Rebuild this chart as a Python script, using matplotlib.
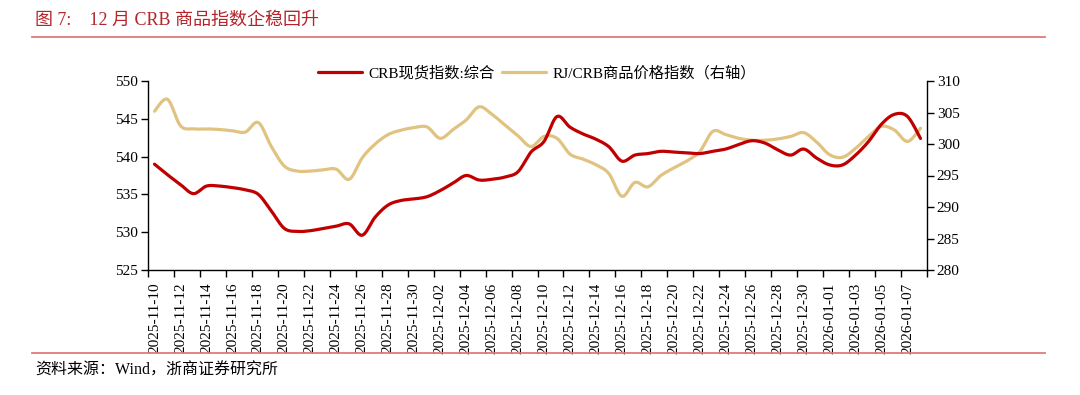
import numpy as np
import pandas as pd
import matplotlib
matplotlib.use("Agg")
import matplotlib.pyplot as plt
from matplotlib.lines import Line2D

# ---------------- data ----------------
dates = pd.date_range("2025-11-10", "2026-01-08", freq="D")
categories = [d.strftime("%Y-%m-%d") for d in dates]

crb_spot = [539.0, 537.6, 536.3, 535.1, 536.1, 536.1, 535.9, 535.6, 535.0, 532.8,
            530.5, 530.1, 530.2, 530.5, 530.8, 531.1, 529.6, 532.0, 533.6, 534.2,
            534.4, 534.7, 535.5, 536.5, 537.5, 536.9, 537.0, 537.3, 538.0, 540.6,
            542.0, 545.3, 543.9, 543.0, 542.3, 541.3, 539.4, 540.2, 540.4, 540.7,
            540.6, 540.5, 540.4, 540.7, 541.0, 541.6, 542.1, 541.8, 540.9, 540.2,
            541.0, 539.8, 538.9, 538.9, 540.2, 542.0, 544.3, 545.6, 545.3, 542.4]

rj_crb = [305.2, 307.1, 302.9, 302.4, 302.4, 302.3, 302.1, 301.9, 303.4, 299.6,
          296.5, 295.7, 295.7, 295.9, 296.0, 294.4, 297.8, 300.0, 301.5, 302.2,
          302.6, 302.7, 300.9, 302.3, 303.8, 305.9, 304.7, 303.0, 301.3, 299.6,
          301.2, 300.9, 298.4, 297.6, 296.7, 295.3, 291.7, 293.9, 293.2, 295.0,
          296.2, 297.3, 298.8, 302.0, 301.5, 300.9, 300.6, 300.6, 300.8, 301.2,
          301.8, 300.3, 298.3, 297.9, 299.3, 301.2, 302.8, 302.2, 300.4, 302.5]

left_ticks = [525, 530, 535, 540, 545, 550]
right_ticks = [280, 285, 290, 295, 300, 305, 310]

title_text = "图 7:    12 月 CRB 商品指数企稳回升"
source_text = "资料来源：Wind，浙商证券研究所"
label_spot = "CRB现货指数:综合"
label_rj = "RJ/CRB商品价格指数（右轴）"

RED = "#c00000"
TAN = "#e0c381"
TITLE_RED = "#b5242b"
RULE_RED = "#e07a7a"

FAM = ["Liberation Serif", "Noto Sans CJK SC"]
plt.rcParams["font.family"] = FAM


def smooth(x, y, n=12):
    """Catmull-Rom curve through the points (like a smoothed line)."""
    x = np.asarray(x, float)
    y = np.asarray(y, float)
    P = np.column_stack([x, y])
    P = np.vstack([P[0], P, P[-1]])
    out = []
    t = np.linspace(0, 1, n, endpoint=False)[:, None]
    for i in range(1, len(P) - 2):
        p0, p1, p2, p3 = P[i - 1], P[i], P[i + 1], P[i + 2]
        seg = 0.5 * ((2 * p1) + (-p0 + p2) * t + (2 * p0 - 5 * p1 + 4 * p2 - p3) * t ** 2
                     + (-p0 + 3 * p1 - 3 * p2 + p3) * t ** 3)
        out.append(seg)
    out.append(P[-2][None, :])
    S = np.vstack(out)
    return S[:, 0], S[:, 1]


fig = plt.figure(figsize=(10.8, 3.95), dpi=100)
ax = fig.add_axes([148 / 1080, 1 - 270 / 395, (927 - 148) / 1080, (270 - 81) / 395])
ax2 = ax.twinx()

xpos = np.arange(len(categories)) + 0.5
sx, sy = smooth(xpos, crb_spot)
l1, = ax.plot(sx, sy, color=RED, lw=2.3, solid_capstyle="round", zorder=3)
rx, ry = smooth(xpos, rj_crb)
l2, = ax2.plot(rx, ry, color=TAN, lw=2.3, solid_capstyle="round", zorder=2)
ax.set_zorder(ax2.get_zorder() + 1)
ax.patch.set_visible(False)

ax.set_xlim(0, len(categories))
ax.set_ylim(left_ticks[0], left_ticks[-1])
ax2.set_ylim(right_ticks[0], right_ticks[-1])
ax.set_yticks(left_ticks)
ax2.set_yticks(right_ticks)

# category axis: tick marks at boundaries, labels at centres of every 2nd category
ax.set_xticks(np.arange(0, len(categories) + 1, 2))
ax.set_xticklabels([])
ax.set_xticks(xpos[::2], minor=True)
ax.set_xticklabels(categories[::2], minor=True, rotation=90, fontsize=11)
ax.tick_params(axis="x", which="minor", length=0, pad=9)
ax.tick_params(axis="x", which="major", length=5, width=1, direction="out")
ax.tick_params(axis="y", length=5, width=1, direction="out", labelsize=11, pad=2)
ax2.tick_params(axis="y", length=5, width=1, direction="out", labelsize=11, pad=2)

for a in (ax, ax2):
    a.spines["top"].set_visible(False)
    for s in ("left", "right", "bottom"):
        a.spines[s].set_linewidth(1.0)
        a.spines[s].set_color("black")
ax.spines["right"].set_visible(False)
ax2.spines["left"].set_visible(False)
ax2.spines["bottom"].set_visible(False)

fig.legend([l1, l2], [label_spot, label_rj], loc="center", ncol=2,
           bbox_to_anchor=(0.497, 1 - 73 / 395), frameon=False, fontsize=11,
           handlelength=2.9, columnspacing=0.5, handletextpad=0.4)

fig.text(35 / 1080, 1 - 20 / 395, title_text, color=TITLE_RED, fontsize=13,
         va="center", ha="left")
fig.add_artist(Line2D([32 / 1080, 1045 / 1080], [1 - 37 / 395] * 2, color=RULE_RED, lw=1.3, zorder=5))
fig.add_artist(Line2D([32 / 1080, 1045 / 1080], [1 - 353 / 395] * 2, color=RULE_RED, lw=1.3, zorder=5))
fig.text(35 / 1080, 1 - 371 / 395, source_text, color="black", fontsize=11.5,
         va="center", ha="left")

fig.savefig("out.png", dpi=100, facecolor="white")
